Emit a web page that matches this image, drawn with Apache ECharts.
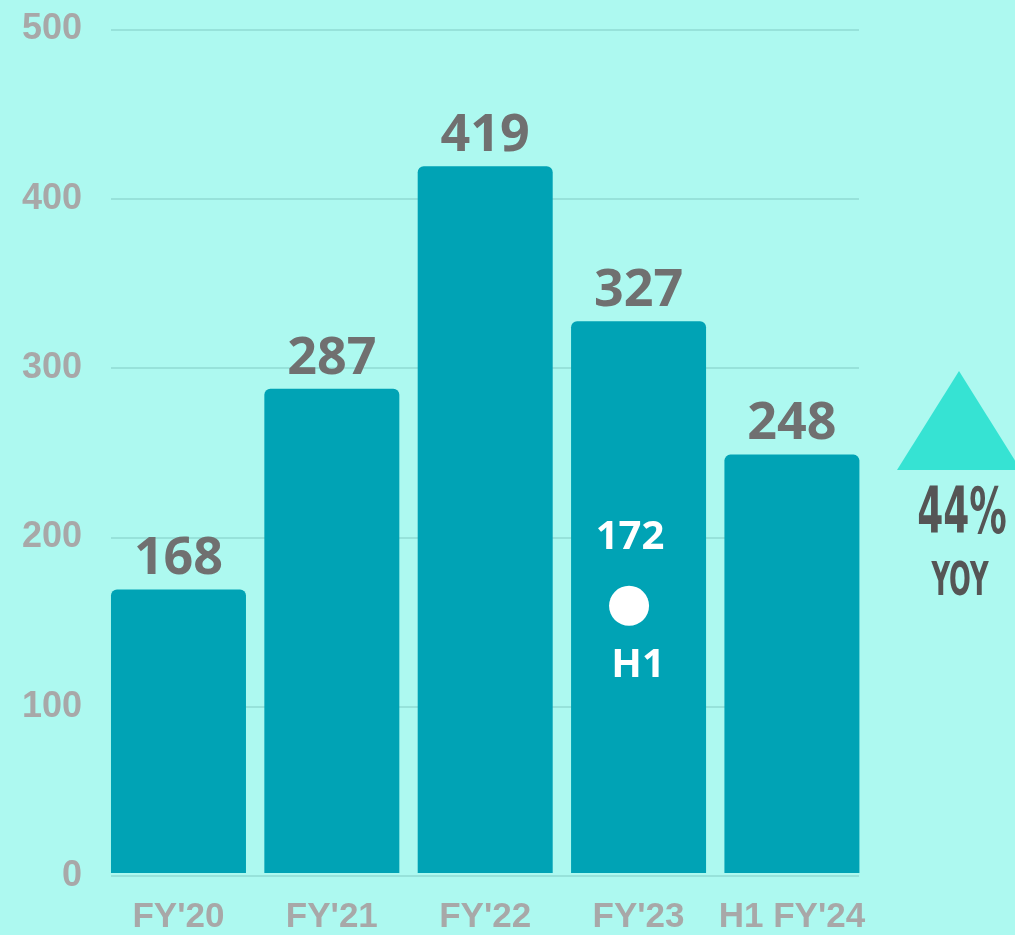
<!DOCTYPE html>
<html>
<head>
<meta charset="utf-8">
<script src="https://cdn.jsdelivr.net/npm/echarts@6/dist/echarts.min.js"></script>
<style>
html,body{margin:0;padding:0;background:#adf9f0;}
#chart{width:1015px;height:935px;}
</style>
</head>
<body>
<div id="chart"></div>
<script>
var categories = ["FY'20", "FY'21", "FY'22", "FY'23", "H1 FY'24"];
var values = [168, 287, 419, 327, 248];
var h1Category = "FY'23";
var h1Value = 172;
var h1Text = "H1";
var yoyPct = "44%";
var yoyText = "YOY";
var yMin = 0, yMax = 500, yStep = 100;

var chart = echarts.init(document.getElementById('chart'));
var labelGray = '#a8a8a8';
chart.setOption({
  backgroundColor: '#adf9f0',
  animation: false,
  grid: [
    {left: 111, right: 156, top: 29.5, bottom: 59},
    {left: 101.8, right: 146.4, top: 29.5, bottom: 59}
  ],
  xAxis: [
    {gridIndex: 0, type: 'value', show: false, min: 0, max: 1},
    {gridIndex: 1, type: 'category', data: categories,
      axisLine: {show: false}, axisTick: {show: false},
      axisLabel: {interval: 0, color: labelGray, fontFamily: 'Liberation Sans', fontWeight: 'bold', fontSize: 35, margin: 27}}
  ],
  yAxis: [
    {gridIndex: 0, type: 'value', min: yMin, max: yMax, interval: yStep,
      axisLine: {show: false}, axisTick: {show: false},
      axisLabel: {color: labelGray, fontFamily: 'Liberation Sans', fontWeight: 'bold', fontSize: 36, margin: 29},
      splitLine: {lineStyle: {color: '#97e2da', width: 2}}},
    {gridIndex: 1, type: 'value', min: yMin, max: yMax, interval: yStep, show: false}
  ],
  series: [
    {type: 'bar', xAxisIndex: 1, yAxisIndex: 1, data: values, barWidth: 135,
      itemStyle: {color: '#00a3b5', borderRadius: [6, 6, 0, 0]},
      label: {show: true, position: 'top', distance: 4, color: '#707070',
        fontFamily: 'Open Sans', fontWeight: 'bold', fontSize: 52}},
    {type: 'scatter', xAxisIndex: 1, yAxisIndex: 1, data: [[h1Category, h1Value]],
      symbol: 'circle', symbolSize: 40, symbolOffset: [-9.5, 23],
      itemStyle: {color: '#ffffff', opacity: 1}, z: 5,
      label: {show: true, position: 'inside', offset: [1, -68], color: '#ffffff',
        fontFamily: 'Open Sans', fontWeight: 'bold', fontSize: 40,
        formatter: function (p) { return p.value[1]; }}},
    {type: 'scatter', xAxisIndex: 1, yAxisIndex: 1, data: [[h1Category, h1Value]],
      symbol: 'circle', symbolSize: 1, symbolOffset: [-9.5, 23],
      itemStyle: {color: 'rgba(0,0,0,0)', opacity: 1}, z: 5,
      label: {show: true, position: 'inside', offset: [9, 60], color: '#ffffff',
        fontFamily: 'Open Sans', fontWeight: 'bold', fontSize: 40,
        formatter: h1Text}}
  ],
  graphic: [
    {type: 'polygon', shape: {points: [[959, 371], [897, 470], [1021, 470]]},
      style: {fill: '#36e3d3'}},
    {type: 'text', x: 962, y: 516, scaleX: 0.65,
      style: {text: yoyPct, fill: '#555555', font: 'bold 64px "DejaVu Sans Condensed"',
        textAlign: 'center', textVerticalAlign: 'middle'}},
    {type: 'text', x: 960, y: 583, scaleX: 0.62,
      style: {text: yoyText, fill: '#555555', font: 'bold 46px "DejaVu Sans Condensed"',
        textAlign: 'center', textVerticalAlign: 'middle'}}
  ]
});
</script>
</body>
</html>
